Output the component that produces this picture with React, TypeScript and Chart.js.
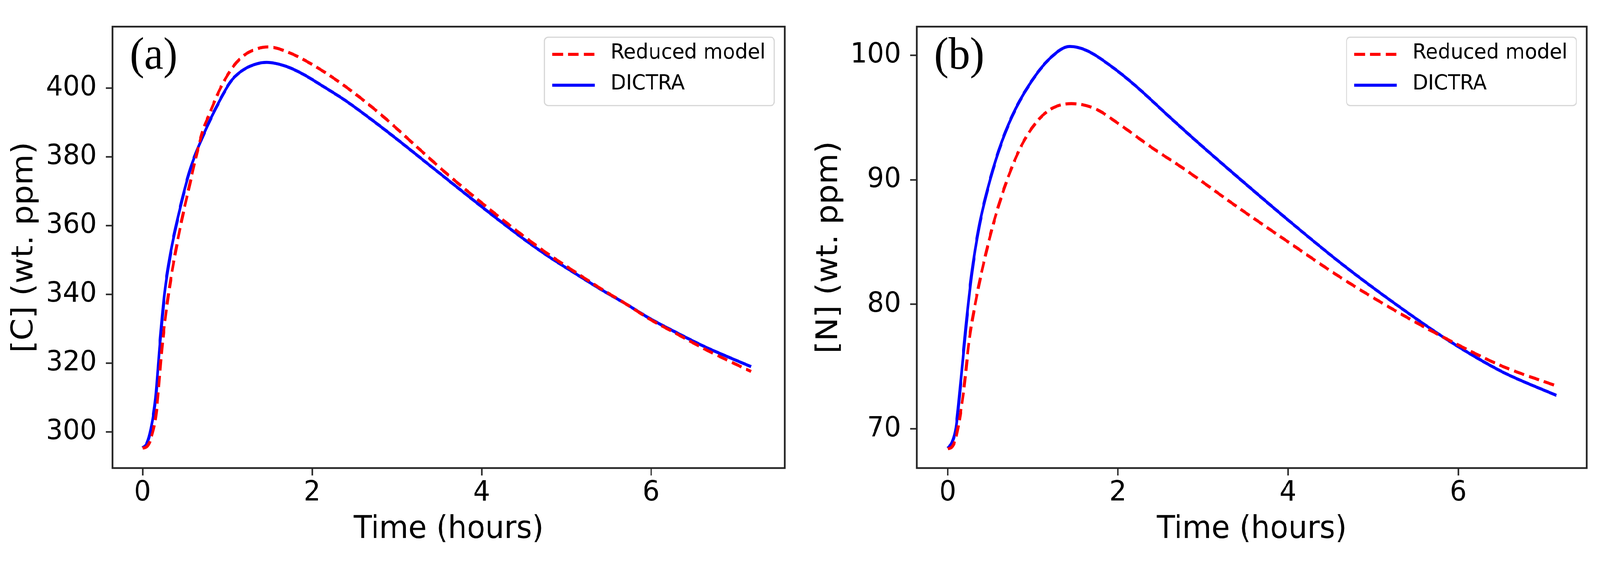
import { useEffect, useRef } from 'react'
import { Chart, registerables } from 'chart.js'
Chart.register(...registerables)

// (a) carbon, wt. ppm against time in hours
const tA_red = [0, 0.05, 0.1, 0.164, 0.232, 0.309, 0.427, 0.562, 0.65, 0.72, 0.781, 0.915, 1.05, 1.165, 1.3, 1.48, 1.715, 2.015, 2.382, 2.8, 3.216, 3.6, 3.9, 4.2, 4.5, 4.8, 5.1, 5.4, 5.7, 6.0, 6.3, 6.65, 6.95, 7.18]
const cA_red = [295.3, 295.7, 298.2, 306.0, 325.1, 340.5, 357.3, 372.6, 382.0, 388.3, 392.0, 399.8, 405.6, 408.9, 411.0, 412.0, 410.5, 406.7, 400.7, 392.6, 383.4, 374.9, 368.7, 362.7, 356.9, 351.5, 346.6, 341.8, 337.3, 332.6, 328.6, 323.9, 320.3, 317.6]
const tA_blue = [0, 0.05, 0.096, 0.154, 0.203, 0.261, 0.33, 0.427, 0.562, 0.715, 0.915, 1.048, 1.2, 1.35, 1.465, 1.7, 1.9, 2.1, 2.4, 2.7, 3.0, 3.3, 3.6, 3.9, 4.2, 4.5, 4.8, 5.1, 5.4, 5.7, 6.0, 6.3, 6.65, 6.95, 7.18]
const cA_blue = [295.4, 296.6, 300.6, 309.8, 325.1, 340.5, 351.9, 363.4, 376.4, 386.2, 396.6, 402.2, 405.5, 407.1, 407.5, 406.3, 404.0, 401.0, 396.3, 390.9, 385.2, 379.3, 373.4, 367.5, 361.7, 356.1, 350.9, 346.2, 341.6, 337.3, 332.8, 328.9, 324.6, 321.4, 319.0]

// (b) nitrogen
const tB_red = [0, 0.05, 0.1, 0.185, 0.253, 0.331, 0.428, 0.544, 0.679, 0.854, 1.048, 1.241, 1.455, 1.725, 2.016, 2.404, 2.781, 3.377, 4.004, 4.631, 5.258, 5.885, 6.513, 7.155]
const nB_red = [68.4, 68.55, 69.4, 72.9, 77.12, 80.3, 83.47, 86.64, 89.6, 92.56, 94.67, 95.78, 96.11, 95.73, 94.46, 92.56, 90.86, 87.95, 85.0, 82.1, 79.5, 77.15, 75.05, 73.45]
const tB_blue = [0, 0.05, 0.098, 0.156, 0.214, 0.282, 0.369, 0.467, 0.601, 0.757, 0.95, 1.203, 1.435, 1.629, 1.92, 2.21, 2.598, 2.923, 3.377, 4.004, 4.631, 5.258, 5.885, 6.513, 7.155]
const nB_blue = [68.45, 68.9, 70.14, 73.95, 78.18, 82.41, 86.22, 89.18, 92.35, 95.1, 97.53, 99.75, 100.7, 100.39, 99.12, 97.53, 95.1, 93.1, 90.4, 86.75, 83.25, 80.05, 77.1, 74.6, 72.69]

const X_TICKS = [0, 2, 4, 6]
const C_TICKS = [300, 320, 340, 360, 380, 400]
const N_TICKS = [70, 80, 90, 100]
const LABELS = ['Reduced model', 'DICTRA']

const W = 4333
const H = 1441
const FONT = 'DejaVu Sans'
const INK = '#262626'

const pts = (xs: number[], ys: number[]) => xs.map((x, i) => ({ x, y: ys[i] }))

// frame, panel tag and a matplotlib-like legend box
const deco = (tag: string) => ({
  id: 'deco',
  afterDraw(chart: any) {
    const { ctx, chartArea: a } = chart
    ctx.save()
    ctx.strokeStyle = INK
    ctx.lineWidth = 4.5
    ctx.strokeRect(a.left, a.top, a.right - a.left, a.bottom - a.top)

    ctx.fillStyle = '#000'
    ctx.font = '116px "Liberation Serif"'
    ctx.textAlign = 'left'
    ctx.textBaseline = 'middle'
    ctx.fillText(tag, a.left + 47, a.top + 77)

    ctx.font = `54px "${FONT}"`
    const sets = chart.data.datasets
    const tw = Math.max(...sets.map((d: any) => ctx.measureText(d.label).width))
    const w = 179 + tw + 24, h = 175
    const bx = a.right - 28 - w, by = a.top + 27
    ctx.beginPath()
    ctx.roundRect(bx, by, w, h, 10)
    ctx.fillStyle = 'rgba(255,255,255,0.8)'
    ctx.fill()
    ctx.strokeStyle = 'rgba(204,204,204,0.8)'
    ctx.lineWidth = 3
    ctx.stroke()
    sets.forEach((d: any, i: number) => {
      const ly = by + 44 + i * 79
      ctx.beginPath()
      ctx.setLineDash(d.borderDash || [])
      ctx.strokeStyle = d.borderColor
      ctx.lineWidth = d.borderWidth
      ctx.lineCap = 'butt'
      ctx.moveTo(bx + 21, ly)
      ctx.lineTo(bx + 136, ly)
      ctx.stroke()
      ctx.setLineDash([])
      ctx.fillStyle = '#000'
      ctx.fillText(d.label, bx + 179, ly - 3)
    })
    ctx.restore()
  },
})

interface PanelProps {
  tag: string; yTitle: string
  tRed: number[]; vRed: number[]; tBlue: number[]; vBlue: number[]
  yTicks: number[]; xMin: number; xMax: number; yMin: number; yMax: number
  left: number; width: number; plotLeft: number; padRight: number; titlePad: number
}

function Panel(p: PanelProps) {
  const ref = useRef<HTMLCanvasElement>(null)

  useEffect(() => {
    if (!ref.current) return
    const tickFont = { family: FONT, size: 72 }
    const titleFont = { family: FONT, size: 81 }
    const chart = new Chart(ref.current, {
      type: 'line',
      data: {
        datasets: [
          { label: LABELS[0], data: pts(p.tRed, p.vRed), borderColor: '#ff0000', borderWidth: 7.8, borderDash: [29, 13.5], borderCapStyle: 'butt', pointRadius: 0, cubicInterpolationMode: 'monotone', fill: false },
          { label: LABELS[1], data: pts(p.tBlue, p.vBlue), borderColor: '#0000ff', borderWidth: 7.8, pointRadius: 0, cubicInterpolationMode: 'monotone', fill: false },
        ],
      },
      options: {
        responsive: false, animation: false, devicePixelRatio: 1, events: [],
        layout: { padding: { top: 21, right: p.padRight, left: 0, bottom: 0 } },
        plugins: { legend: { display: false }, tooltip: { enabled: false } },
        scales: {
          x: {
            type: 'linear', min: p.xMin, max: p.xMax,
            afterBuildTicks: (s: any) => { s.ticks = X_TICKS.map(v => ({ value: v })) },
            afterFit: (s: any) => { s.height = H - 1198 },
            border: { display: false },
            grid: { drawOnChartArea: false, tickLength: 19, tickWidth: 4, tickColor: INK },
            ticks: { padding: 2, color: '#000', font: tickFont, autoSkip: false, maxRotation: 0, callback: (v: any) => String(v) },
            title: { display: true, text: 'Time (hours)', color: '#000', font: titleFont, padding: { top: 0, bottom: 36 } },
          },
          y: {
            type: 'linear', min: p.yMin, max: p.yMax,
            afterBuildTicks: (s: any) => { s.ticks = p.yTicks.map(v => ({ value: v })) },
            afterFit: (s: any) => { s.width = p.plotLeft },
            border: { display: false },
            grid: { drawOnChartArea: false, tickLength: 18, tickWidth: 4, tickColor: INK },
            ticks: { padding: 25, color: '#000', font: tickFont, autoSkip: false, callback: (v: any) => String(v) },
            title: { display: true, text: p.yTitle, color: '#000', font: titleFont, padding: { top: p.titlePad, bottom: 0 } },
          },
        },
      },
      plugins: [deco(p.tag)],
    } as any)
    return () => { chart.destroy() }
  }, [p])

  return (
    <canvas ref={ref} width={p.width} height={H}
      style={{ position: 'absolute', left: p.left, top: 0, width: p.width, height: H }} />
  )
}

const panelA: PanelProps = {
  tag: '(a)', yTitle: '[C] (wt. ppm)',
  tRed: tA_red, vRed: cA_red, tBlue: tA_blue, vBlue: cA_blue,
  yTicks: C_TICKS, xMin: -0.353, xMax: 7.577, yMin: 289.5, yMax: 417.9,
  left: 0, width: 2166, plotLeft: 305, padRight: 41, titlePad: 18,
}
const panelB: PanelProps = {
  tag: '(b)', yTitle: '[N] (wt. ppm)',
  tRed: tB_red, vRed: nB_red, tBlue: tB_blue, vBlue: nB_blue,
  yTicks: N_TICKS, xMin: -0.362, xMax: 7.51, yMin: 66.86, yMax: 102.29,
  left: 2166, width: 2167, plotLeft: 317, padRight: 36, titlePad: 31,
}

export default function App() {
  // fit the 4333 x 1441 figure to whatever the viewport really is
  const sx = window.innerWidth / W
  const sy = window.innerHeight / H
  return (
    <div style={{ position: 'fixed', left: 0, top: 0, right: 0, bottom: 0, overflow: 'hidden', background: '#fff' }}>
      <div style={{ position: 'absolute', left: 0, top: 0, width: W, height: H, transform: `scale(${sx}, ${sy})`, transformOrigin: '0 0' }}>
        <Panel {...panelA} />
        <Panel {...panelB} />
      </div>
    </div>
  )
}
